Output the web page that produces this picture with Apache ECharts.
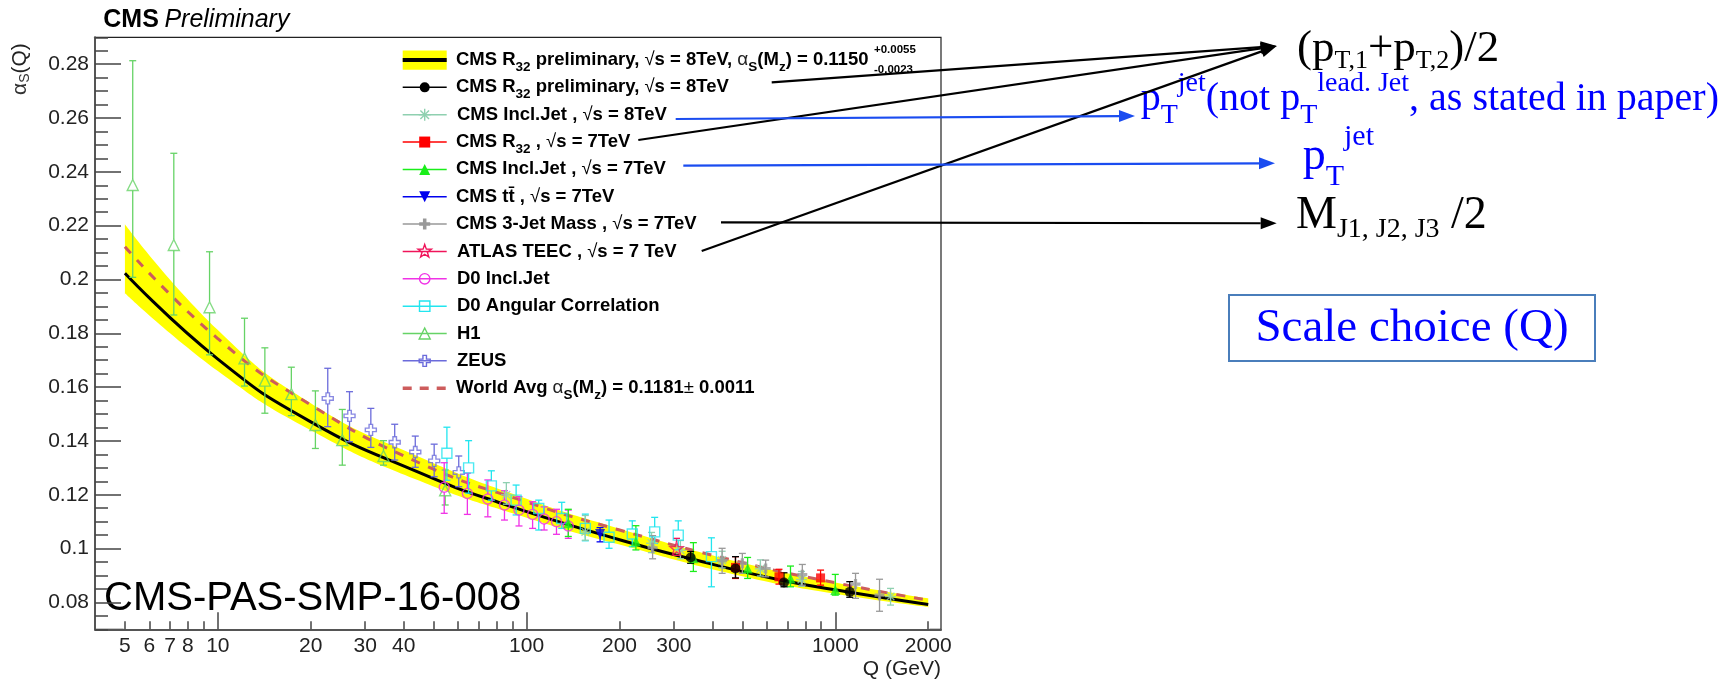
<!DOCTYPE html>
<html><head><meta charset="utf-8">
<script src="https://cdn.jsdelivr.net/npm/echarts@6/dist/echarts.min.js"></script>
<style>html,body{margin:0;padding:0;background:#fff}#c{width:1725px;height:682px}</style>
</head><body><div id="c"></div>
<script>
// ---------------- data ----------------
// fit band and curves
const bandQ  = [5, 10, 20, 45, 100, 200, 500, 1000, 2000];
const bandUp = [0.2205, 0.1812, 0.1540, 0.1340, 0.1185, 0.1074, 0.0947, 0.0874, 0.0815];
const bandLo = [0.1949, 0.1660, 0.1440, 0.1252, 0.1115, 0.1015, 0.0897, 0.0832, 0.0783];
const fitQ = [5, 10, 20, 45, 83, 200, 340, 665, 1114, 2000];
const fitA = [0.2023, 0.1704, 0.1471, 0.1282, 0.1168, 0.1033, 0.0962, 0.0883, 0.0838, 0.0792];
const waQ = [5, 10, 20, 45, 100, 200, 500, 1000, 2000];
const waA = [0.2122, 0.1780, 0.1534, 0.1318, 0.1173, 0.1069, 0.0948, 0.0873, 0.0808];
// H1
const h1Q  = [5.3, 7.2, 9.4, 12.2, 14.2, 17.3, 20.7, 25.3, 34.4, 54.5];
const h1A  = [0.2351, 0.2128, 0.1897, 0.1707, 0.1624, 0.1574, 0.1459, 0.1403, 0.1344, 0.1217];
const h1Up = [0.2813, 0.2469, 0.2103, 0.1856, 0.1746, 0.1674, 0.1586, 0.1517, 0.1401, 0.1292];
const h1Lo = [0.2008, 0.1868, 0.1720, 0.1604, 0.1503, 0.1494, 0.1372, 0.1310, 0.1310, 0.1162];
// ZEUS
const zeusQ  = [22.7, 26.7, 31.3, 37.4, 43.6, 50.2, 60.3];
const zeusA  = [0.1558, 0.1493, 0.1441, 0.1395, 0.1359, 0.1326, 0.1283];
const zeusUp = [0.1670, 0.1583, 0.1521, 0.1462, 0.1418, 0.1388, 0.1344];
const zeusLo = [0.1453, 0.1397, 0.1376, 0.1329, 0.1302, 0.1267, 0.1230];
// D0 angular correlation
const d0aQ  = [55.2, 64.9, 76.9, 92.5, 109.5, 130, 155, 185, 220, 260, 310, 397];
const d0aA  = [0.1354, 0.1300, 0.1233, 0.1180, 0.1149, 0.1112, 0.1075, 0.1042, 0.1054, 0.1062, 0.1050, 0.0970];
const d0aUp = [0.1451, 0.1401, 0.1289, 0.1236, 0.1180, 0.1172, 0.1128, 0.1106, 0.1103, 0.1116, 0.1103, 0.1040];
const d0aLo = [0.1254, 0.1206, 0.1180, 0.1125, 0.1069, 0.1075, 0.1029, 0.1001, 0.1007, 0.1019, 0.0997, 0.0858];
// D0 inclusive jet
const d0iQ  = [54.1, 64.3, 74.9, 84.8, 94.5, 104.6, 114, 125, 136.5];
const d0iA  = [0.1228, 0.1205, 0.1184, 0.1162, 0.1143, 0.1127, 0.1110, 0.1100, 0.1084];
const d0iUp = [0.1319, 0.1280, 0.1255, 0.1215, 0.1193, 0.1174, 0.1155, 0.1146, 0.1143];
const d0iLo = [0.1131, 0.1127, 0.1118, 0.1106, 0.1084, 0.1075, 0.1069, 0.1053, 0.1038];
// CMS inclusive jet 8 TeV
const c8iQ  = [86, 155, 254, 315, 430, 572, 777, 1510];
const c8iA  = [0.1200, 0.1062, 0.1020, 0.0994, 0.0957, 0.0925, 0.0885, 0.0822];
const c8iUp = [0.1245, 0.1123, 0.1060, 0.1030, 0.0990, 0.0958, 0.0915, 0.0852];
const c8iLo = [0.1165, 0.1031, 0.0985, 0.0962, 0.0928, 0.0898, 0.0860, 0.0790];
// CMS 3-jet mass
const m3Q  = [256, 430, 500, 595, 782, 1163, 1391];
const m3A  = [0.1003, 0.0955, 0.0945, 0.0926, 0.0903, 0.0868, 0.0827];
const m3Up = [0.1048, 0.1001, 0.0982, 0.0957, 0.0941, 0.0908, 0.0886];
const m3Lo = [0.0962, 0.0908, 0.0908, 0.0895, 0.0864, 0.0815, 0.0767];
// ATLAS TEEC
const atQ = [306], atA = [0.1001], atUp = [0.1038], atLo = [0.0975];
// CMS inclusive jet 7 TeV
const c7iQ  = [136.5, 226, 347, 520, 716, 1000];
const c7iA  = [0.1094, 0.1026, 0.0964, 0.0926, 0.0889, 0.0846];
const c7iUp = [0.1146, 0.1085, 0.1022, 0.0967, 0.0935, 0.0904];
const c7iLo = [0.1045, 0.0995, 0.0915, 0.0889, 0.0858, 0.0827];
// CMS ttbar
const ttQ = [173], ttA = [0.1054], ttUp = [0.1078], ttLo = [0.1025];
// CMS R32 7 TeV
const r7Q  = [475, 657, 896];
const r7A  = [0.0930, 0.0895, 0.0891];
const r7Up = [0.0970, 0.0923, 0.0920];
const r7Lo = [0.0889, 0.0868, 0.0864];
// CMS R32 8 TeV preliminary
const r8Q  = [340, 475, 682, 1114];
const r8A  = [0.0967, 0.0926, 0.0874, 0.0839];
const r8Up = [0.0989, 0.0970, 0.0910, 0.0877];
const r8Lo = [0.0945, 0.0891, 0.0858, 0.0819];
// ticks
const xMajorTicks = [10, 100, 1000];
const xMinorTicks = [5,6,7,8,9,20,30,40,50,60,70,80,90,200,300,400,500,600,700,800,900,2000];
const xTickLabels = [5,6,7,8,10,20,30,40,100,200,300,1000,2000];
const yTickLabels = [0.08,0.1,0.12,0.14,0.16,0.18,0.2,0.22,0.24,0.26,0.28];
const yMinorTicks = [];
for (let k = 14; k <= 58; k++) yMinorTicks.push(+(k * 0.005).toFixed(3));
// legend
const legendNames = ['fit','r8','c8i','r7','c7i','tt','m3','at','d0i','d0a','h1','zeus','wa'];
const legendTexts = [
  'CMS R{s|32} preliminary, {r|√}s = 8TeV, {g|α}{s|S}(M{s|z}) = 0.1150',
  'CMS R{s|32} preliminary, {r|√}s = 8TeV',
  'CMS Incl.Jet , {r|√}s = 8TeV',
  'CMS R{s|32} , {r|√}s = 7TeV',
  'CMS Incl.Jet , {r|√}s = 7TeV',
  'CMS tt\u0304 , {r|√}s = 7TeV',
  'CMS 3-Jet Mass , {r|√}s = 7TeV',
  'ATLAS TEEC , {r|√}s = 7 TeV',
  'D0 Incl.Jet',
  'D0 Angular Correlation',
  'H1',
  'ZEUS',
  'World Avg {g|α}{s|S}(M{s|z}) = 0.1181{pm|±} 0.0011'
];

// ---------------- styles ----------------
const SANS = "'Liberation Sans', Arial, Helvetica, sans-serif";
const SERIF = "'Liberation Serif', 'Times New Roman', Times, serif";
const C = {
  h1:'#66d366', zeus:'#6b6bdb', d0a:'#22e5ef', d0i:'#f032e6', c8i:'#8fd0b0', m3:'#999999',
  at:'#f0145a', c7i:'#1aee1a', tt:'#0000ee', r7:'#ff0000', r8:'#000000', wa:'#cd5c5c'
};
const STAR_PTS = [[5,0],[6.18,3.38],[9.76,3.45],[6.9,5.62],[7.94,9.05],[5,7],[2.06,9.05],[3.1,5.62],[0.24,3.45],[3.82,3.38]];
const CROSS_PTS = [[3.4,0],[6.6,0],[6.6,3.4],[10,3.4],[10,6.6],[6.6,6.6],[6.6,10],[3.4,10],[3.4,6.6],[0,6.6],[0,3.4],[3.4,3.4]];
const TRI_PTS = [[5,0],[10,10],[0,10]];
const TRI_DN_PTS = [[0,0],[10,0],[5,10]];
function toPath(pts){ return 'path://M' + pts.map(p => p[0] + ',' + p[1]).join('L') + 'Z'; }
function placed(pts, cx, cy, size){ return pts.map(p => [cx + (p[0]-5)*size/10, cy + (p[1]-5)*size/10]); }
const AST_PATH = 'path://M5,0L5,10M0,5L10,5M1.5,1.5L8.5,8.5M8.5,1.5L1.5,8.5';

function errRenderer(color, gap) {
  return function (params, api) {
    const q = api.value(0), a = api.value(1), lo = api.value(2), hi = api.value(3);
    const c = api.coord([q, a]), pl = api.coord([q, lo]), ph = api.coord([q, hi]);
    const x = c[0], cap = 3.5;
    const st = { stroke: color, lineWidth: 1.3 };
    const ch = [];
    if (c[1] - gap > ph[1]) ch.push({ type:'line', shape:{x1:x, y1:ph[1], x2:x, y2:c[1]-gap}, style:st });
    if (pl[1] > c[1] + gap) ch.push({ type:'line', shape:{x1:x, y1:c[1]+gap, x2:x, y2:pl[1]}, style:st });
    ch.push({ type:'line', shape:{x1:x-cap, y1:ph[1], x2:x+cap, y2:ph[1]}, style:st });
    ch.push({ type:'line', shape:{x1:x-cap, y1:pl[1], x2:x+cap, y2:pl[1]}, style:st });
    return { type:'group', children: ch };
  };
}

const sets = [
  {name:'h1',   Q:h1Q,  A:h1A,  U:h1Up,  L:h1Lo,  color:C.h1,   symbol:toPath(TRI_PTS), size:11, open:true},
  {name:'zeus', Q:zeusQ,A:zeusA,U:zeusUp,L:zeusLo,color:C.zeus, symbol:toPath(CROSS_PTS), size:11, open:true},
  {name:'d0a',  Q:d0aQ, A:d0aA, U:d0aUp, L:d0aLo, color:C.d0a,  symbol:'rect', size:10, open:true},
  {name:'d0i',  Q:d0iQ, A:d0iA, U:d0iUp, L:d0iLo, color:C.d0i,  symbol:'circle', size:10, open:true},
  {name:'c8i',  Q:c8iQ, A:c8iA, U:c8iUp, L:c8iLo, color:C.c8i,  symbol:AST_PATH, size:11, open:true, nogap:true},
  {name:'m3',   Q:m3Q,  A:m3A,  U:m3Up,  L:m3Lo,  color:C.m3,   symbol:toPath(CROSS_PTS), size:10},
  {name:'at',   Q:atQ,  A:atA,  U:atUp,  L:atLo,  color:C.at,   symbol:toPath(STAR_PTS), size:13, open:true},
  {name:'c7i',  Q:c7iQ, A:c7iA, U:c7iUp, L:c7iLo, color:C.c7i,  symbol:toPath(TRI_PTS), size:10},
  {name:'tt',   Q:ttQ,  A:ttA,  U:ttUp,  L:ttLo,  color:C.tt,   symbol:toPath(TRI_DN_PTS), size:10},
  {name:'r7',   Q:r7Q,  A:r7A,  U:r7Up,  L:r7Lo,  color:C.r7,   symbol:'rect', size:9},
  {name:'r8',   Q:r8Q,  A:r8A,  U:r8Up,  L:r8Lo,  color:C.r8,   symbol:'circle', size:10}
];

const lastI = bandQ.length - 1;
const series = [
  // yellow band: area under the upper edge, then the area under the lower edge painted white again
  { type:'line', name:'bandUp', data: bandQ.map((q,i)=>[q, bandUp[i]]), symbol:'none', smooth:true,
    lineStyle:{opacity:0}, areaStyle:{color:'#ffff00', opacity:1, origin:'start'}, silent:true, z:1 },
  { type:'line', name:'bandLo', data: bandQ.map((q,i)=>[q, bandLo[i]]), symbol:'none', smooth:true,
    lineStyle:{opacity:0}, areaStyle:{color:'#ffffff', opacity:1, origin:'start'}, silent:true, z:1 },
  // clean the anti-aliased yellow seam below the band ends
  { type:'custom', name:'bandEdge', silent:true, z:1,
    data: [[bandQ[0], bandLo[0]], [bandQ[lastI], bandLo[lastI]]], encode:{x:0, y:1},
    renderItem: (p, api) => {
      const a = api.coord([api.value(0), api.value(1)]), b = api.coord([api.value(0), 0.07]);
      return { type:'line', shape:{x1:a[0], y1:a[1]+1.5, x2:b[0], y2:b[1]}, style:{stroke:'#ffffff', lineWidth:2.5} };
    } },
  { type:'line', name:'wa', data: waQ.map((q,i)=>[q, waA[i]]), symbol:'none', smooth:true,
    lineStyle:{color:C.wa, width:3, type:[9,9], cap:'butt'}, silent:true, z:2 },
  { type:'line', name:'fit', data: fitQ.map((q,i)=>[q, fitA[i]]), symbol:'none', smooth:true,
    lineStyle:{color:'#000', width:3}, silent:true, z:3 }
];
sets.forEach(s => {
  series.push({ type:'custom', name: s.name + '_err', renderItem: errRenderer(s.color, (s.open && !s.nogap) ? s.size/2 : 0),
    data: s.Q.map((q,i)=>[q, s.A[i], s.L[i], s.U[i]]), encode:{x:0, y:[1,2,3]}, silent:true, z:4 });
  series.push({ type:'scatter', name: s.name, data: s.Q.map((q,i)=>[q, s.A[i]]), symbol: s.symbol, symbolSize: s.size,
    itemStyle: s.open ? {color:'rgba(0,0,0,0)', borderColor:s.color, borderWidth:1.4} : {color:s.color, borderWidth:0},
    silent:true, z:5 });
});

// ---------------- legend (one component per row) ----------------
const rowY = i => 60 + 27.35 * i;
const legendRich = {
  s:{fontFamily:SANS, fontWeight:'bold', fontSize:13.5, lineHeight:13, verticalAlign:'bottom'},
  g:{fontFamily:SANS, fontWeight:'normal', fontSize:19, color:'#222'},
  r:{fontFamily:SANS, fontWeight:'normal', fontSize:18.5},
  pm:{fontFamily:SANS, fontWeight:'normal', fontSize:18.5}
};
const legends = legendNames.map((n, i) => ({
  show:true, left:402.7, top: rowY(i) - 14, orient:'horizontal', padding:0, itemWidth:44, itemHeight:14, itemGap:0,
  selectedMode:false, data:[{name:n, icon:'rect'}], itemStyle:{opacity:0}, lineStyle:{opacity:0},
  formatter: () => legendTexts[i],
  textStyle:{fontFamily:SANS, fontSize:18.5, fontWeight:'bold', color:'#000', lineHeight:28, padding:[0,0,0,4.3], rich: legendRich}
}));

// legend icons (graphic)
const G = [];
const LX0 = 402.7, LX1 = 446.7, LCX = 424.7;
function iconLine(i, color, w, dash){ G.push({type:'line', z:6, silent:true, shape:{x1:LX0, y1:rowY(i), x2:LX1, y2:rowY(i)}, style:{stroke:color, lineWidth:w||1.5, lineDash:dash||null}}); }
function iconPoly(i, pts, size, color, open){ G.push({type:'polygon', z:7, silent:true, shape:{points: placed(pts, LCX, rowY(i), size)},
  style: open ? {fill:'rgba(0,0,0,0)', stroke:color, lineWidth:1.4} : {fill:color}}); }
G.push({type:'rect', z:6, silent:true, shape:{x:LX0, y:rowY(0)-9.6, width:44, height:19.3}, style:{fill:'#ffff00'}});
iconLine(0, '#000', 4);
iconLine(1, C.r8); G.push({type:'circle', z:7, silent:true, shape:{cx:LCX, cy:rowY(1), r:5}, style:{fill:C.r8}});
iconLine(2, C.c8i);
[[0,-6,0,6],[-6,0,6,0],[-4.3,-4.3,4.3,4.3],[4.3,-4.3,-4.3,4.3]].forEach(d => G.push({type:'line', z:7, silent:true,
  shape:{x1:LCX+d[0], y1:rowY(2)+d[1], x2:LCX+d[2], y2:rowY(2)+d[3]}, style:{stroke:C.c8i, lineWidth:1.4}}));
iconLine(3, C.r7); G.push({type:'rect', z:7, silent:true, shape:{x:LCX-5.5, y:rowY(3)-5.5, width:11, height:11}, style:{fill:C.r7}});
iconLine(4, C.c7i); iconPoly(4, TRI_PTS, 11, C.c7i, false);
iconLine(5, C.tt); iconPoly(5, TRI_DN_PTS, 11, C.tt, false);
iconLine(6, C.m3); iconPoly(6, CROSS_PTS, 11, C.m3, false);
iconLine(7, C.at); iconPoly(7, STAR_PTS, 14, C.at, true);
iconLine(8, C.d0i); G.push({type:'circle', z:7, silent:true, shape:{cx:LCX, cy:rowY(8), r:5.2}, style:{fill:'rgba(0,0,0,0)', stroke:C.d0i, lineWidth:1.4}});
iconLine(9, C.d0a); G.push({type:'rect', z:7, silent:true, shape:{x:LCX-5.2, y:rowY(9)-5.2, width:10.4, height:10.4}, style:{fill:'rgba(0,0,0,0)', stroke:C.d0a, lineWidth:1.4}});
iconLine(10, C.h1); iconPoly(10, TRI_PTS, 11, C.h1, true);
iconLine(11, C.zeus); iconPoly(11, CROSS_PTS, 11, C.zeus, true);
iconLine(12, C.wa, 3.5, [9, 8]);

// texts
G.push({type:'text', z:8, silent:true, x:874, y:50, style:{text:'+0.0055', fontFamily:SANS, fontWeight:'bold', fontSize:11.5, fill:'#000', verticalAlign:'middle'}});
G.push({type:'text', z:8, silent:true, x:874, y:70, style:{text:'-0.0023', fontFamily:SANS, fontWeight:'bold', fontSize:11.5, fill:'#000', verticalAlign:'middle'}});
G.push({type:'text', z:8, silent:true, x:103.3, y:20.3, style:{text:'{b|CMS} {i|Preliminary}', fontFamily:SANS, fontSize:20, fill:'#000', verticalAlign:'middle',
  rich:{b:{fontFamily:SANS, fontWeight:'bold', fontSize:25, fill:'#000'}, i:{fontFamily:SANS, fontStyle:'italic', fontSize:25, fill:'#000'}}}});
G.push({type:'text', z:8, silent:true, x:104, y:599.4, style:{text:'CMS-PAS-SMP-16-008', fontFamily:SANS, fontSize:40, fill:'#000', verticalAlign:'middle'}});
G.push({type:'text', z:8, silent:true, x:941, y:668.9, style:{text:'Q (GeV)', fontFamily:SANS, fontSize:21, fill:'#222', align:'right', verticalAlign:'middle'}});
G.push({type:'text', z:8, silent:true, x:32, y:95, rotation:Math.PI/2, style:{text:'{a|α}{s|S}(Q)', fontFamily:SANS, fontSize:21, fill:'#222',
  lineHeight:24, align:'left', verticalAlign:'bottom',
  rich:{a:{fontFamily:SANS, fontSize:21, fill:'#333', lineHeight:24}, s:{fontFamily:SANS, fontSize:14, fill:'#333', lineHeight:12, verticalAlign:'bottom'}}}});

// annotations
const BLUE_TXT = '#0000ff', BLUE_ARROW = '#1a4cf0';
function arrow(x1, y1, tx, ty, color){
  const dx = tx - x1, dy = ty - y1, len = Math.hypot(dx, dy), ux = dx/len, uy = dy/len;
  const bx = tx - 16*ux, by = ty - 16*uy, nx = -uy, ny = ux;
  G.push({type:'line', z:9, silent:true, shape:{x1, y1, x2:bx, y2:by}, style:{stroke:color, lineWidth:2.2}});
  G.push({type:'polygon', z:9, silent:true, shape:{points:[[tx,ty],[bx+6*nx, by+6*ny],[bx-6*nx, by-6*ny]]}, style:{fill:color}});
}
arrow(771.7, 82.3, 1276.7, 46, '#000');
arrow(638.3, 140, 1276.7, 46, '#000');
arrow(701.7, 251, 1276.7, 46, '#000');
arrow(675.7, 119, 1135, 116, BLUE_ARROW);
arrow(683.3, 165.7, 1275, 163.3, BLUE_ARROW);
arrow(721, 222.3, 1276.7, 223.3, '#000');

G.push({type:'text', z:8, silent:true, x:1297, y:23.7, style:{text:'(p{s|T,1}+p{s|T,2})/2', fontFamily:SERIF, fontSize:45, lineHeight:50, fill:'#000', verticalAlign:'top',
  rich:{s:{fontFamily:SERIF, fontSize:26, lineHeight:27.1, verticalAlign:'bottom', fill:'#000'}}}});
G.push({type:'text', z:8, silent:true, x:1140.7, y:69.7, style:{text:'p{s|T}{p|jet}(not p{s|T}{p|lead. Jet}, as stated in paper)', fontFamily:SERIF, fontSize:40, lineHeight:60, fill:BLUE_TXT, verticalAlign:'top',
  rich:{s:{fontFamily:SERIF, fontSize:28, lineHeight:21.8, verticalAlign:'bottom', fill:BLUE_TXT}, p:{fontFamily:SERIF, fontSize:28, lineHeight:42.2, verticalAlign:'top', fill:BLUE_TXT}}}});
G.push({type:'text', z:8, silent:true, x:1302.7, y:121.7, style:{text:'p{s|T}{p|jet}', fontFamily:SERIF, fontSize:46, lineHeight:70, fill:BLUE_TXT, verticalAlign:'top',
  rich:{s:{fontFamily:SERIF, fontSize:30, lineHeight:31.1, verticalAlign:'bottom', fill:BLUE_TXT}, p:{fontFamily:SERIF, fontSize:30, lineHeight:42.9, verticalAlign:'top', fill:BLUE_TXT}}}});
G.push({type:'text', z:8, silent:true, x:1296, y:188.1, style:{text:'M{s|J1, J2, J3} /2', fontFamily:SERIF, fontSize:46, lineHeight:56, fill:'#000', verticalAlign:'top',
  rich:{s:{fontFamily:SERIF, fontSize:28, lineHeight:19.8, verticalAlign:'bottom', fill:'#000'}}}});
G.push({type:'rect', z:8, silent:true, shape:{x:1229, y:295, width:366, height:66}, style:{fill:'rgba(0,0,0,0)', stroke:'#4a7ebb', lineWidth:2}});
G.push({type:'text', z:8, silent:true, x:1412, y:329, style:{text:'Scale choice (Q)', fontFamily:SERIF, fontSize:47, fill:BLUE_TXT, align:'center', verticalAlign:'middle'}});

// ---------------- option ----------------
const axisText = {fontFamily:SANS, fontSize:21, color:'#222'};
const option = {
  animation:false,
  backgroundColor:'#ffffff',
  grid:{left:95, right:784, top:37.3, bottom:52.7, show:true, borderColor:'#222', borderWidth:1.2, backgroundColor:'rgba(0,0,0,0)', containLabel:false, outerBoundsMode:'none'},
  xAxis:[
    {type:'log', logBase:10, min:4, max:2200, position:'bottom', offset:0, z:20,
     axisLine:{show:true, onZero:false, lineStyle:{color:'#555', width:2}},
     axisTick:{show:true, inside:true, length:17, customValues:xMajorTicks, lineStyle:{color:'#444', width:1.5}},
     axisLabel:Object.assign({show:true, margin:6, customValues:xTickLabels, formatter: v => String(Math.round(v))}, axisText),
     splitLine:{show:false}, minorTick:{show:false}, minorSplitLine:{show:false}},
    {type:'log', logBase:10, min:4, max:2200, position:'bottom', offset:0, z:20,
     axisLine:{show:false, onZero:false},
     axisTick:{show:true, inside:true, length:8, customValues:xMinorTicks, lineStyle:{color:'#444', width:1.5}},
     axisLabel:{show:false}, splitLine:{show:false}}
  ],
  yAxis:[
    {type:'value', min:0.07, max:0.29, position:'left', offset:0, z:20,
     axisLine:{show:true, onZero:false, lineStyle:{color:'#555', width:2}},
     axisTick:{show:true, inside:true, length:26, customValues:yTickLabels, lineStyle:{color:'#444', width:1.5}},
     axisLabel:Object.assign({show:true, margin:6, customValues:yTickLabels, formatter: v => String(+(+v).toFixed(3))}, axisText),
     splitLine:{show:false}},
    {type:'value', min:0.07, max:0.29, position:'left', offset:0, z:20,
     axisLine:{show:false, onZero:false},
     axisTick:{show:true, inside:true, length:13, customValues:yMinorTicks, lineStyle:{color:'#444', width:1.5}},
     axisLabel:{show:false}, splitLine:{show:false}}
  ],
  legend: legends,
  series: series,
  graphic:{elements:G}
};
const chart = echarts.init(document.getElementById('c'), null, {renderer:'canvas'});
chart.setOption(option);
</script></body></html>
